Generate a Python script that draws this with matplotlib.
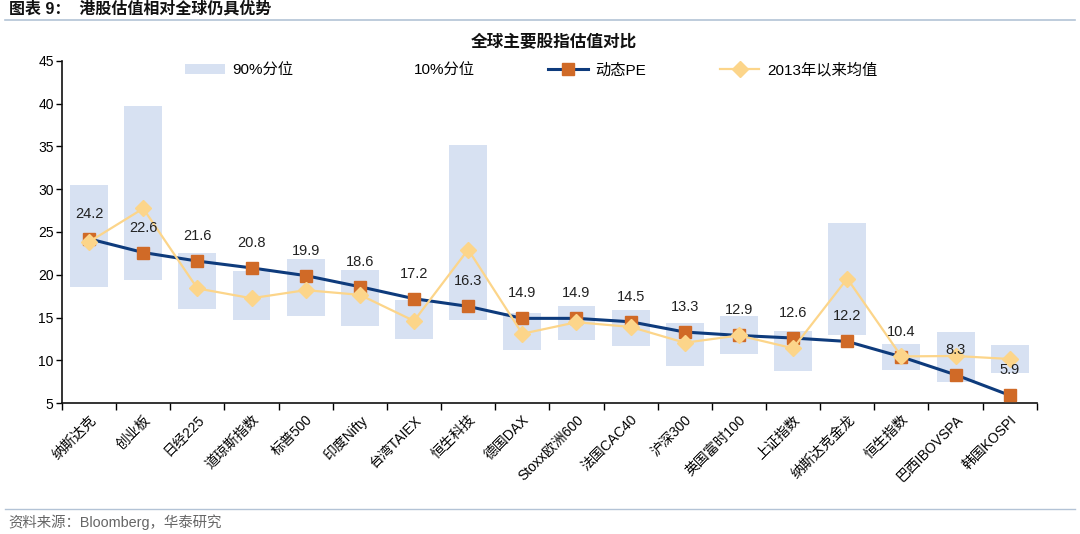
import matplotlib
matplotlib.use("Agg")
import matplotlib.pyplot as plt
from matplotlib.patches import Patch
from matplotlib.lines import Line2D
import numpy as np

plt.rcParams['font.family'] = ['Liberation Sans', 'Noto Sans CJK SC', 'DejaVu Sans']

# 数据
categories = ['纳斯达克', '创业板', '日经225', '道琼斯指数', '标普500', '印度Nifty',
              '台湾TAIEX', '恒生科技', '德国DAX', 'Stoxx欧洲600', '法国CAC40', '沪深300',
              '英国富时100', '上证指数', '纳斯达克金龙', '恒生指数', '巴西IBOVSPA', '韩国KOSPI']
pe_now = [24.2, 22.6, 21.6, 20.8, 19.9, 18.6, 17.2, 16.3, 14.9, 14.9, 14.5, 13.3,
          12.9, 12.6, 12.2, 10.4, 8.3, 5.9]
pct90 = [30.5, 39.7, 22.5, 20.4, 21.9, 20.5, 17.1, 35.2, 15.5, 16.4, 15.9, 14.4,
         15.2, 13.45, 26.1, 11.9, 13.35, 11.75]
pct10 = [18.6, 19.35, 16.0, 14.7, 15.2, 14.0, 12.45, 14.75, 11.25, 12.4, 11.7, 9.35,
         10.75, 8.7, 12.9, 8.85, 7.4, 8.55]
avg_2013 = [23.85, 27.75, 18.4, 17.25, 18.2, 17.65, 14.6, 22.95, 13.1, 14.45, 13.9, 12.05,
            12.9, 11.4, 19.55, 10.45, 10.5, 10.15]

bar_color = '#D7E1F2'
pe_line = '#0E3B7C'
pe_marker = '#D06A27'
avg_color = '#FCD58A'

fig = plt.figure(figsize=(10.8, 5.34), dpi=100)
ax = fig.add_axes([0.0574, 0.2453, 0.9026, 0.6405])

x = np.arange(len(categories))
ax.bar(x, np.array(pct90) - np.array(pct10), bottom=pct10, width=0.7,
       color=bar_color, zorder=1)
ax.plot(x, pe_now, color=pe_line, lw=2.2, marker='s', markersize=9,
        markerfacecolor=pe_marker, markeredgecolor=pe_marker, zorder=3)
ax.plot(x, avg_2013, color=avg_color, lw=1.6, marker='D', markersize=8,
        markerfacecolor=avg_color, markeredgecolor=avg_color, zorder=4)

for xi, v in zip(x, pe_now):
    ax.annotate(f'{v:.1f}', (xi, v), xytext=(0, 18), textcoords='offset points',
                ha='center', va='center', fontsize=10.5, color='#222222', zorder=5)

ax.set_xlim(-0.5, len(categories) - 0.5)
ax.set_ylim(5, 45)
ax.set_yticks(range(5, 46, 5))
ax.set_xticks(np.arange(-0.5, len(categories), 1.0))
ax.set_xticklabels([])
ax.set_xticks(x, minor=True)
ax.set_xticklabels(categories, minor=True, rotation=45, ha='right', va='top',
                   rotation_mode='anchor', fontsize=10)
ax.tick_params(axis='x', which='major', direction='out', length=5, width=1)
ax.tick_params(axis='x', which='minor', length=0, pad=7)
ax.tick_params(axis='y', direction='out', length=4, width=1, labelsize=10, pad=2)
for s in ['top', 'right']:
    ax.spines[s].set_visible(False)
for s in ['left', 'bottom']:
    ax.spines[s].set_linewidth(1.2)
    ax.spines[s].set_color('#111111')

handles = [
    Patch(facecolor=bar_color, edgecolor='none'),
    Patch(facecolor='none', edgecolor='none'),
    Line2D([], [], color=pe_line, lw=2.2, marker='s', markersize=9,
           markerfacecolor=pe_marker, markeredgecolor=pe_marker),
    Line2D([], [], color=avg_color, lw=1.6, marker='D', markersize=8,
           markerfacecolor=avg_color, markeredgecolor=avg_color),
]
labels = ['90%分位', '10%分位', '动态PE', '2013年以来均值']
ax.legend(handles, labels, loc='upper left', bbox_to_anchor=(0.112, 1.035), ncol=4,
          frameon=False, fontsize=11, handlelength=2.6, columnspacing=4.8,
          handletextpad=0.5)

fig.text(0.513, 0.921, '全球主要股指估值对比', ha='center', va='center',
         fontsize=12, fontweight='bold', color='#111111')
fig.text(0.008, 0.984, '图表 9：  港股估值相对全球仍具优势', ha='left', va='center',
         fontsize=11.5, fontweight='bold', color='#111111')
fig.add_artist(Line2D([0.005, 0.995], [0.962, 0.962], color='#B3C3D6', lw=1.2))
fig.add_artist(Line2D([0.005, 0.995], [0.047, 0.047], color='#B3C3D6', lw=1.0))
fig.text(0.008, 0.022, '资料来源：Bloomberg，华泰研究', ha='left', va='center',
         fontsize=10.4, color='#666666')

fig.savefig('out.png', dpi=100)
